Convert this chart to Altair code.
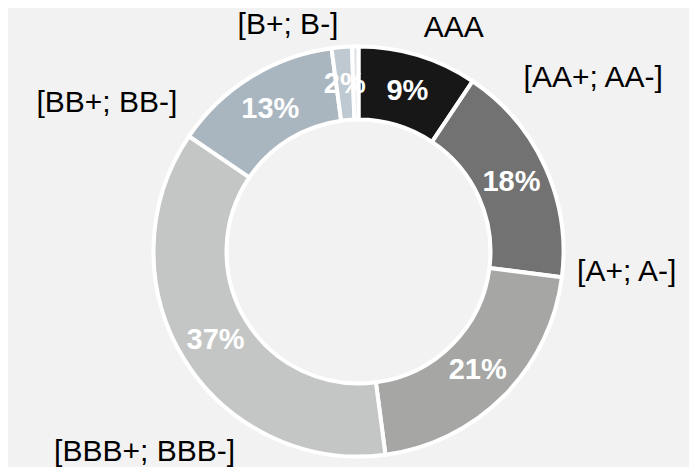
import math
import altair as alt
import pandas as pd

# ---- data ----
categories = ["AAA", "[AA+; AA-]", "[A+; A-]", "[BBB+; BBB-]", "[BB+; BB-]", "[B+; B-]", "other"]
shares = [9.4, 17.6, 20.9, 36.6, 13.4, 1.6, 0.5]
show_pct = [True, True, True, True, True, True, False]
colors = ["#171717", "#727272", "#a6a7a5", "#c4c6c6", "#a9b5bf", "#bfc9d1", "#dfe3e7"]

# outer label anchors (angle from 12 o'clock in degrees, distance from centre in px)
label_angle = [23.1, 53.5, 94.4, 226.9, 300.5, 342.7]
label_dist = [243, 292, 269, 293, 292, 237]

W, H = 681, 459
CX, CY = 350.5, 243.5

df = pd.DataFrame({
    "cat": categories,
    "share": shares,
    "idx": list(range(len(categories))),
    "pct": [f"{round(s)}%" if sh else "" for s, sh in zip(shares, show_pct)],
})

lab = pd.DataFrame({
    "cat": categories[:6],
    "theta": [math.radians(a) for a in label_angle],
    "r": label_dist,
})

color_scale = alt.Scale(domain=categories, range=colors)

base = alt.Chart(df).encode(
    theta=alt.Theta("share:Q", stack=True),
    order=alt.Order("idx:Q"),
    x=alt.value(CX),
    y=alt.value(CY),
)

ring = base.mark_arc(outerRadius=205, innerRadius=132, stroke="white", strokeWidth=4).encode(
    color=alt.Color("cat:N", scale=color_scale, legend=None)
)

inner = base.mark_text(
    radius=168, font="Liberation Sans", fontSize=29, fontWeight="bold", color="white"
).encode(text="pct:N")

outer = alt.Chart(lab).mark_text(
    font="Liberation Sans", fontSize=30, color="black", align="center", baseline="middle"
).encode(
    theta=alt.Theta("theta:Q", scale=None),
    radius=alt.Radius("r:Q", scale=None),
    x=alt.value(CX),
    y=alt.value(CY),
    text="cat:N",
)

chart = alt.layer(ring, inner, outer).resolve_scale(theta="independent").properties(
    width=W, height=H, padding=0, autosize=alt.AutoSizeParams(type="none"), background="#f2f2f2"
).configure_view(stroke=None)

chart.save("out.html", embed_options={"renderer": "svg", "actions": False})
